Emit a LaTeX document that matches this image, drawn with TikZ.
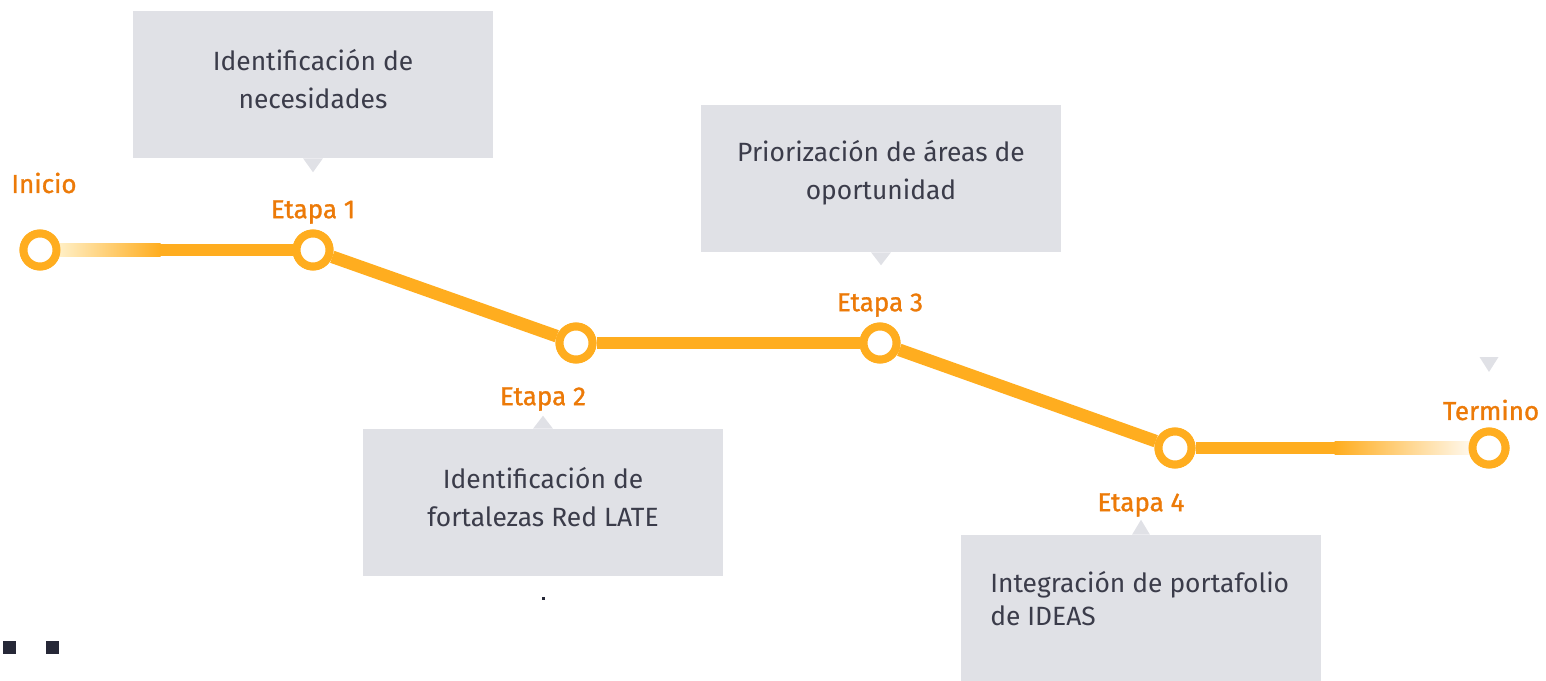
\documentclass[tikz,border=0pt]{standalone}
\usepackage{fontspec}
\setmainfont{Fira Sans}
\usetikzlibrary{calc}
\definecolor{boxc}{HTML}{E0E1E6}
\definecolor{txtc}{HTML}{3B3C4A}
\definecolor{labc}{HTML}{EC7A08}
\definecolor{linec}{HTML}{FFAD1F}
\definecolor{fadel}{HTML}{FFF0C8}
\definecolor{fader}{HTML}{FFF9EE}
\definecolor{sqc}{HTML}{262837}
\tikzset{
  stage/.style={circle,draw=linec,fill=white,line width=6pt,minimum size=24.75pt,inner sep=0pt},
  track/.style={draw=linec,line width=9.5pt},
  infobox/.style={fill=boxc,inner sep=0pt,minimum width=270pt,minimum height=110.25pt},
  boxtext/.style={text=txtc,font=\fontsize{19.8}{28.5}\selectfont,align=center,inner sep=0pt},
  stagelabel/.style={text=labc,font=\fontsize{19.5}{21}\selectfont\addfontfeature{FakeBold=1.2},inner sep=0pt},
  pointer/.style={fill=boxc},
  sq/.style={fill=sqc}
}
\begin{document}
\begin{tikzpicture}[x=0.75pt,y=-0.75pt]
\useasboundingbox (0,0) rectangle (1546,681);
% boxes
\node[infobox] (b1) at (313,84.5) {};
\node[infobox] (b2) at (543,502.5) {};
\node[infobox] (b3) at (881,178.5) {};
\node[infobox,minimum height=109.5pt] (b4) at (1141,608) {};
\fill[pointer] ($(b1.south)+(-10,0)$) -- ($(b1.south)+(10,0)$) -- ($(b1.south)+(0,14)$) -- cycle;
\fill[pointer] ($(b2.north)+(-10,0)$) -- ($(b2.north)+(10,0)$) -- ($(b2.north)+(0,-13)$) -- cycle;
\fill[pointer] ($(b3.south)+(-10,0)$) -- ($(b3.south)+(10,0)$) -- ($(b3.south)+(0,13)$) -- cycle;
\fill[pointer] ($(b4.north)+(-9,0)$) -- ($(b4.north)+(9,0)$) -- ($(b4.north)+(0,-15)$) -- cycle;
\coordinate (tri) at (1489,357);
\fill[pointer] ($(tri)+(-9.5,0)$) -- ($(tri)+(9.5,0)$) -- ($(tri)+(0,15)$) -- cycle;
% box texts
\node[boxtext] (t1) at (313,79) {Identificación de\\necesidades};
\node[boxtext] (t2) at (543,497.5) {Identificación de\\fortalezas Red LATE};
\node[boxtext] (t3) at (881,173) {Priorización de áreas de\\oportunidad};
\node[boxtext,align=left,anchor=west,font=\fontsize{19.8}{24.75}\selectfont] (t4) at (990,599) {Integración de portafolio\\de IDEAS};
% stages
\node[stage] (ini) at (40,250) {};
\node[stage] (e1) at (313,250) {};
\node[stage] (e2) at (576,343) {};
\node[stage] (e3) at (880,343) {};
\node[stage] (e4) at (1175,448) {};
\node[stage] (fin) at (1489,448) {};
\coordinate (g1) at (160,250);
\coordinate (g2) at (1335,448);
\shade[left color=fadel,right color=linec] ($(ini.east)+(-3,-6.3)$) rectangle ($(g1)+(0.5,6.3)$);
\draw[track] (g1) -- (e1);
\draw[track] (e1) -- (e2);
\draw[track] (e2) -- (e3);
\draw[track] (e3) -- (e4);
\draw[track] (e4) -- (g2);
\shade[left color=linec,right color=fader] ($(g2)+(-0.5,-6.3)$) rectangle ($(fin.west)+(3,6.3)$);
\node[stage] at (ini) {};
\node[stage] at (e1) {};
\node[stage] at (e2) {};
\node[stage] at (e3) {};
\node[stage] at (e4) {};
\node[stage] at (fin) {};
% labels
\node[stagelabel] (l0) at (44,183) {Inicio};
\node[stagelabel] (l1) at (313,212) {Etapa 1};
\node[stagelabel] (l2) at (543,399) {Etapa 2};
\node[stagelabel] (l3) at (880,305) {Etapa 3};
\node[stagelabel] (l4) at (1141,505) {Etapa 4};
\node[stagelabel] (l5) at (1491,410) {Termino};
% decorations
\fill[sq] (3,641) rectangle (16,654);
\fill[sq] (46,641) rectangle (59,654);
\fill[sq] (542,597) rectangle (544.5,599.5);
\end{tikzpicture}
\end{document}
